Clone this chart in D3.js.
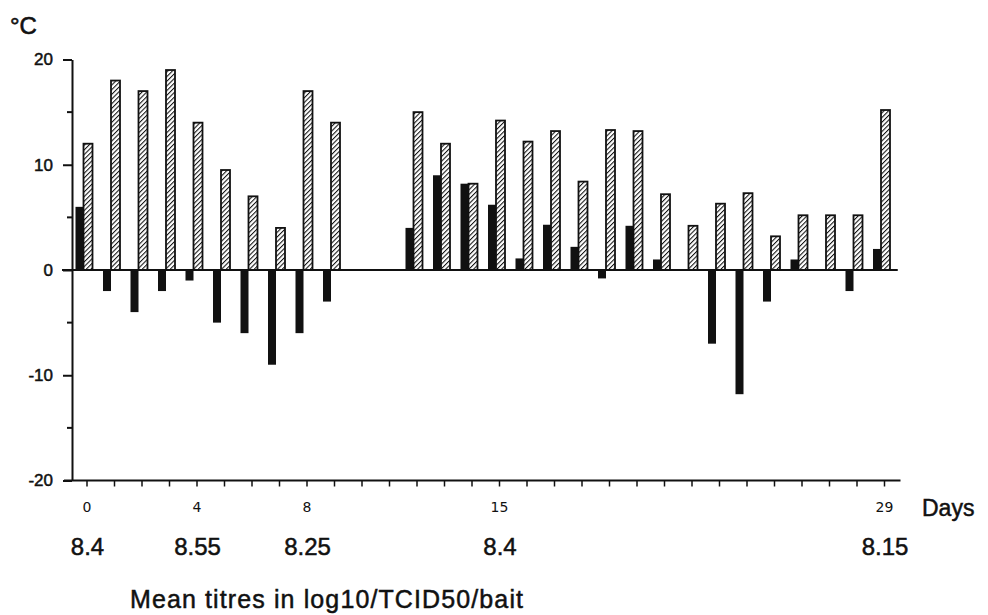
<!DOCTYPE html>
<html><head><meta charset="utf-8">
<script src="https://cdn.jsdelivr.net/npm/d3@7"></script>
<style>body{margin:0;background:#fff}svg{display:block}</style>
</head><body><svg id="c" width="988" height="615"></svg>
<script>
const days = d3.range(0, 30);
const minTemp = [6, -2, -4, -2, -1, -5, -6, -9, -6, -3, null, null, 4, 9, 8.2, 6.2, 1.1, 4.3, 2.2, -0.8, 4.2, 1, null, -7, -11.8, -3, 1, null, -2, 2];
const maxTemp = [12, 18, 17, 19, 14, 9.5, 7, 4, 17, 14, null, null, 15, 12, 8.2, 14.2, 12.2, 13.2, 8.4, 13.3, 13.2, 7.2, 4.2, 6.3, 7.3, 3.2, 5.2, 5.2, 5.2, 15.2];
const yTicks = [-20, -10, 0, 10, 20];
const yMinor = [-15, -5, 5, 15];
const dayLabelDays = [0, 4, 8, 15, 29];
const titreDays = [0, 4, 8, 15, 29];
const titres = ["8.4", "8.55", "8.25", "8.4", "8.15"];

const svg = d3.select("#c");
const x = d3.scaleLinear().domain([0, 29]).range([86.5, 884]);
const y = d3.scaleLinear().domain([-20, 20]).range([480.5, 59.5]);

const defs = svg.append("defs");
const pat = defs.append("pattern").attr("id", "hatch").attr("patternUnits", "userSpaceOnUse")
  .attr("width", 3.3).attr("height", 3.3).attr("patternTransform", "rotate(45)");
pat.append("rect").attr("width", 3.3).attr("height", 3.3).attr("fill", "#fff");
pat.append("line").attr("x1", 0).attr("y1", 0).attr("x2", 0).attr("y2", 3.3)
  .attr("stroke", "#111").attr("stroke-width", 2.1);

const font = "'Liberation Sans', Arial, sans-serif";
const ink = "#111";

// bars
const minData = days.map(d => ({d, v: minTemp[d]})).filter(o => o.v !== null && o.v !== 0);
const maxData = days.map(d => ({d, v: maxTemp[d]})).filter(o => o.v !== null);

svg.append("g").selectAll("rect").data(maxData).join("rect")
  .attr("x", o => x(o.d) - 3).attr("width", 9)
  .attr("y", o => y(Math.max(0, o.v))).attr("height", o => Math.abs(y(o.v) - y(0)))
  .attr("fill", "url(#hatch)").attr("stroke", ink).attr("stroke-width", 1.8);

svg.append("g").selectAll("rect").data(minData).join("rect")
  .attr("x", o => x(o.d) - 11).attr("width", 8)
  .attr("y", o => y(Math.max(0, o.v))).attr("height", o => Math.abs(y(o.v) - y(0)))
  .attr("fill", ink);

// zero line
svg.append("line").attr("x1", 62).attr("x2", x(29.5)).attr("y1", y(0)).attr("y2", y(0))
  .attr("stroke", ink).attr("stroke-width", 2);

// y axis
const yAxis = svg.append("g").attr("transform", "translate(72,0)")
  .call(d3.axisLeft(y).tickValues(yTicks).tickSize(9).tickSizeOuter(0).tickPadding(10));
yAxis.select(".domain").attr("stroke", ink).attr("stroke-width", 2);
yAxis.selectAll(".tick line").attr("stroke", ink).attr("stroke-width", 2);
yAxis.selectAll(".tick text").attr("font-family", font).attr("font-size", 17).attr("fill", ink)
  .attr("stroke", ink).attr("stroke-width", 0.5)
  .text(d => d < 0 ? "-" + Math.abs(d) : d);
svg.append("g").selectAll("line").data(yMinor).join("line")
  .attr("x1", 67).attr("x2", 72).attr("y1", d => y(d)).attr("y2", d => y(d))
  .attr("stroke", ink).attr("stroke-width", 2);

// x axis
const xAxis = svg.append("g").attr("transform", `translate(0,${y(-20)})`)
  .call(d3.axisBottom(x).tickValues(days).tickSize(6).tickSizeOuter(0).tickPadding(16)
    .tickFormat(d => dayLabelDays.includes(d) ? d : ""));
xAxis.select(".domain").remove();
xAxis.selectAll(".tick line").attr("stroke", ink).attr("stroke-width", 1.5);
xAxis.selectAll(".tick text").attr("font-family", "'DejaVu Sans', sans-serif").attr("font-size", 14).attr("fill", ink);
svg.append("line").attr("x1", 64).attr("x2", x(29.6)).attr("y1", y(-20)).attr("y2", y(-20))
  .attr("stroke", ink).attr("stroke-width", 2);

// titre labels
svg.append("g").selectAll("text").data(titreDays).join("text")
  .attr("x", d => x(d) + 1).attr("y", 555).attr("text-anchor", "middle")
  .attr("font-family", font).attr("font-size", 24).attr("fill", ink)
  .attr("stroke", ink).attr("stroke-width", 0.5)
  .text((d, i) => titres[i]);

svg.append("text").attr("x", 922).attr("y", 516).attr("font-family", font).attr("font-size", 23)
  .attr("fill", ink).attr("stroke", ink).attr("stroke-width", 0.5).text("Days");
svg.append("text").attr("x", 10).attr("y", 34).attr("font-family", font).attr("font-size", 24)
  .attr("fill", ink).attr("stroke", ink).attr("stroke-width", 0.6).text("°C");
svg.append("text").attr("x", 130).attr("y", 608).attr("font-family", font).attr("font-size", 25)
  .attr("textLength", 393).attr("lengthAdjust", "spacing")
  .attr("fill", ink).attr("stroke", ink).attr("stroke-width", 0.5).text("Mean titres in log10/TCID50/bait");
</script></body></html>
